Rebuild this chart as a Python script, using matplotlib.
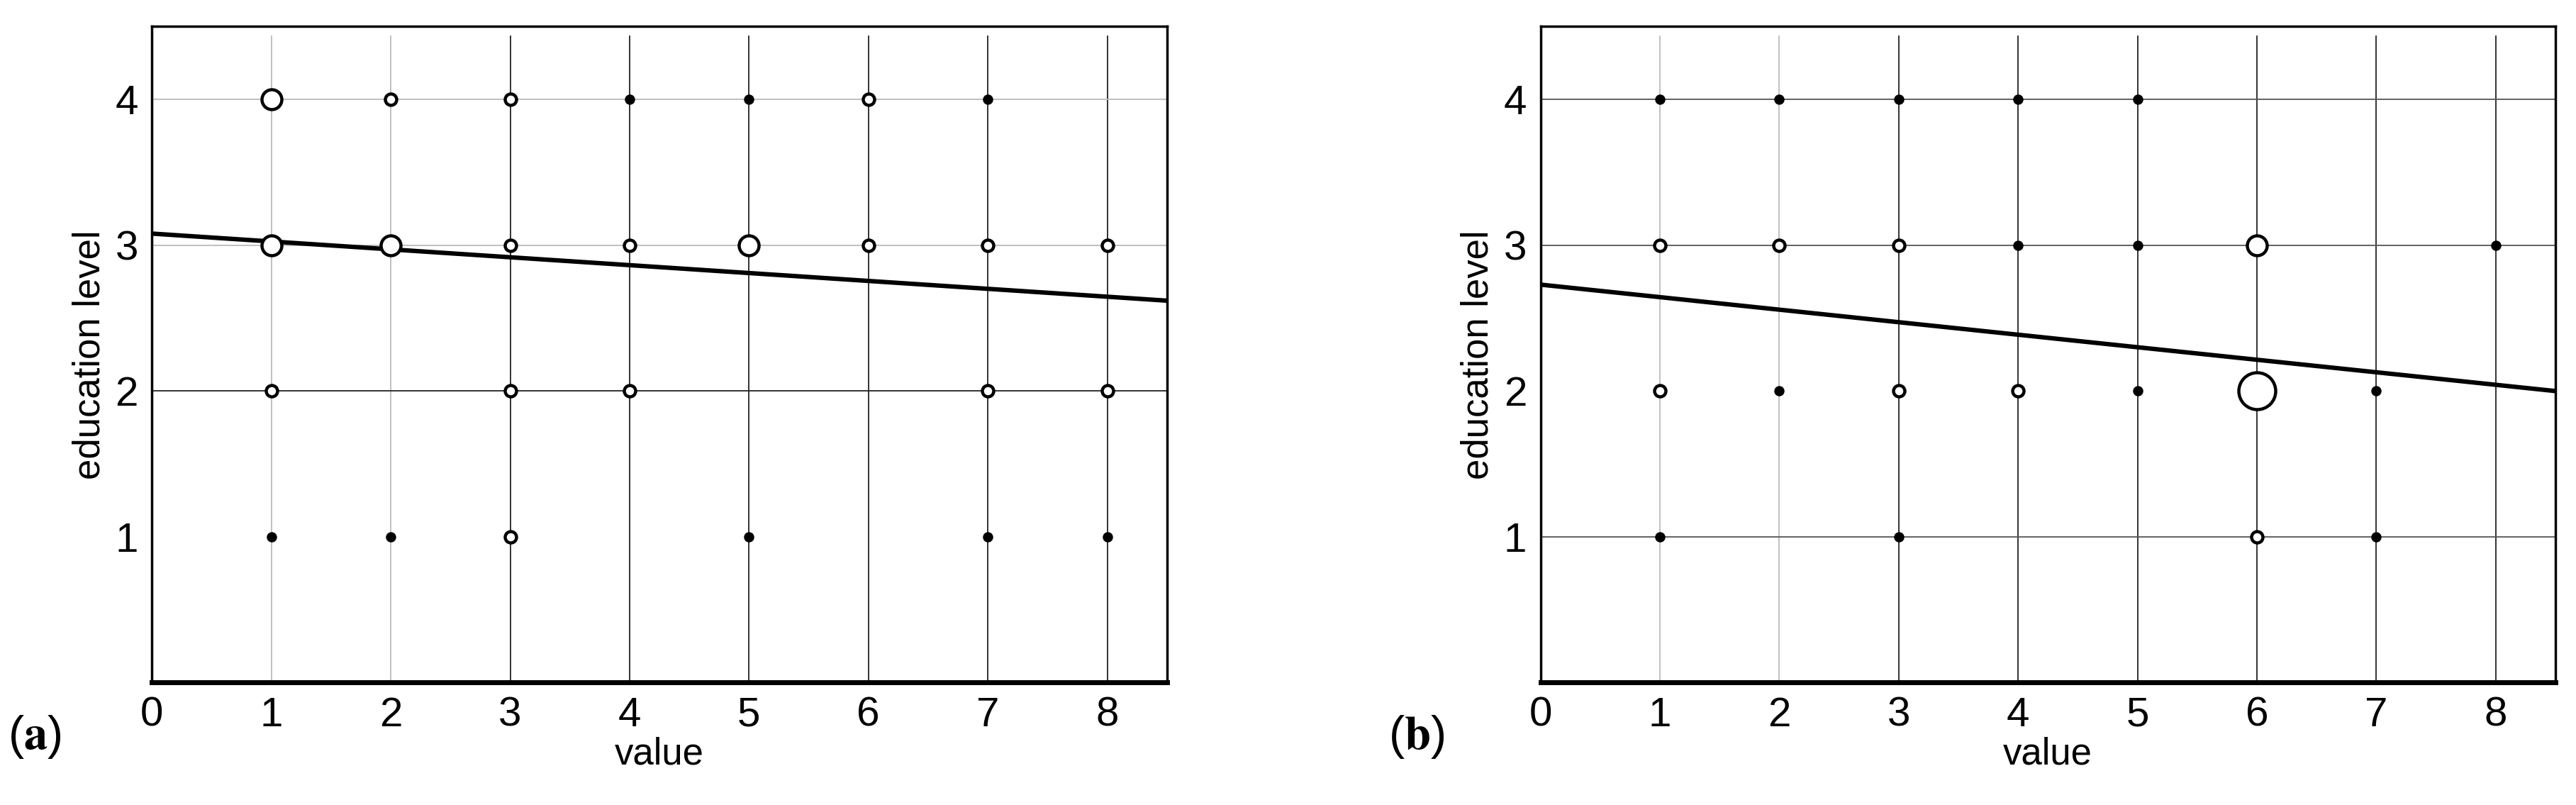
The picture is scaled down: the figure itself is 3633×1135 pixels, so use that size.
import numpy as np
import matplotlib.pyplot as plt

plt.rcParams['font.family'] = ['Liberation Sans', 'DejaVu Sans']
plt.rcParams['mathtext.fontset'] = 'stix'

# panel (a): value, education level, count
a_x = [1, 2, 3, 4, 5, 6, 7,   1, 2, 3, 4, 5, 6, 7, 8,   1, 3, 4, 7, 8,   1, 2, 3, 5, 7, 8]
a_y = [4, 4, 4, 4, 4, 4, 4,   3, 3, 3, 3, 3, 3, 3, 3,   2, 2, 2, 2, 2,   1, 1, 1, 1, 1, 1]
a_n = [3, 2, 2, 1, 1, 2, 1,   3, 3, 2, 2, 3, 2, 2, 2,   2, 2, 2, 2, 2,   1, 1, 2, 1, 1, 1]
a_fit = [3.08, 2.62]   # line at value 0 and 8.5

# panel (b)
b_x = [1, 2, 3, 4, 5,   1, 2, 3, 4, 5, 6, 8,   1, 2, 3, 4, 5, 6, 7,   1, 3, 6, 7]
b_y = [4, 4, 4, 4, 4,   3, 3, 3, 3, 3, 3, 3,   2, 2, 2, 2, 2, 2, 2,   1, 1, 1, 1]
b_n = [1, 1, 1, 1, 1,   2, 2, 2, 1, 1, 3, 1,   2, 1, 2, 2, 1, 5, 1,   1, 1, 2, 1]
b_fit = [2.73, 2.0]

fit_x = [0, 8.5]
diam = {1: 10, 2: 16, 3: 28, 5: 52}  # marker diameter in px for each count

fig = plt.figure(figsize=(36.33, 11.35), dpi=100)
ax_a = fig.add_axes([0.059, 0.152, 0.394, 0.815])
ax_b = fig.add_axes([0.598, 0.152, 0.394, 0.815])

def draw(ax, xs, ys, ns, fit, hgrid):
    # vertical grid
    for v in range(1, 9):
        ax.axvline(v, ymax=0.985, color='#bbbbbb' if v <= 2 else '#222222', lw=1.3, zorder=1)
    for h, c in hgrid.items():
        ax.axhline(h, color=c, lw=1.3, zorder=1)
    for x, y, n in zip(xs, ys, ns):
        d = diam[n] * 0.72
        fc = 'black' if n == 1 else 'white'
        ax.plot(x, y, 'o', ms=d, mfc=fc, mec='black', mew=3.2, zorder=3)
    ax.plot(fit_x, fit, color='black', lw=4.5, zorder=2)
    ax.set_xlim(0, 8.5)
    ax.set_ylim(0, 4.5)
    ax.set_xticks(range(0, 9))
    ax.set_yticks([1, 2, 3, 4])
    ax.tick_params(length=0, labelsize=42, pad=14)
    ax.set_xlabel('value', fontsize=38, labelpad=2)
    ax.set_ylabel('education level', fontsize=38, labelpad=8)
    for s in ax.spines.values():
        s.set_linewidth(2.5)
    ax.spines['bottom'].set_linewidth(5)

draw(ax_a, a_x, a_y, a_n, a_fit, {4: '#bbbbbb', 3: '#bbbbbb', 2: '#222222'})
draw(ax_b, b_x, b_y, b_n, b_fit, {4: '#555555', 3: '#555555', 1: '#555555'})

fig.text(0.003, 0.085, r'($\mathbf{a}$)', fontsize=48, va='center')
fig.text(0.539, 0.085, r'($\mathbf{b}$)', fontsize=48, va='center')

fig.savefig('out.png', dpi=100)
